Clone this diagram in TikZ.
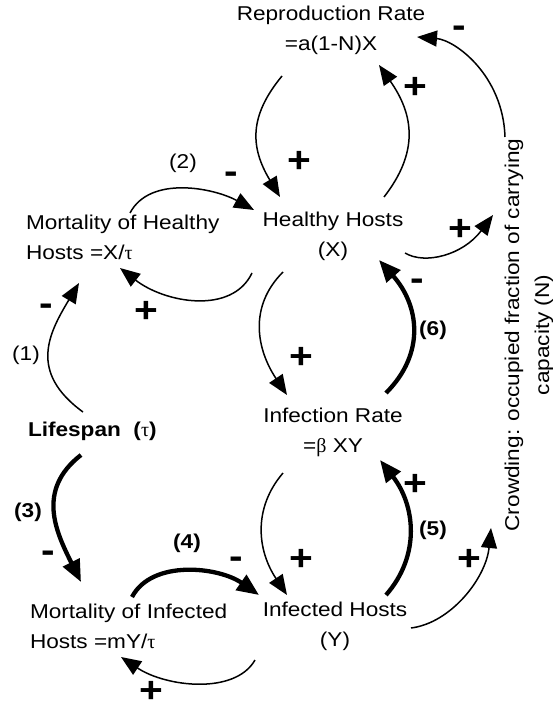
\documentclass[tikz,border=0pt]{standalone}
\usepackage{fontspec}
\setmainfont{Liberation Sans}[FakeStretch=1.13]
\newfontfamily\grk{Liberation Serif}
\usetikzlibrary{arrows.meta}

\begin{document}
\begin{tikzpicture}[x=1pt,y=-1pt,
  every node/.style={inner sep=0pt,outer sep=0pt},
  lbl/.style={font=\fontsize{20}{30}\selectfont},
  sgn/.style={font=\fontsize{36}{36}\selectfont\bfseries},
  num/.style={font=\fontsize{20}{24}\selectfont},
  link/.style={line width=1.5pt,-{Triangle[length=20pt,width=16pt]}},
  fatlink/.style={line width=4.3pt,-{Triangle[length=22pt,width=18pt]}}]
\useasboundingbox (0,0) rectangle (552,711);
% 変数
\node[lbl,align=center] (rep) at (331,30) {Reproduction Rate\\=a(1-N)X};
\node[lbl,align=left,anchor=west] (morth) at (26,237) {Mortality of Healthy\\Hosts =X/{\grk τ}};
\node[lbl,align=center] (healthy) at (333,236) {Healthy Hosts\\(X)};
\node[lbl,anchor=west,font=\fontsize{20}{30}\selectfont\bfseries] (life) at (28,431) {Lifespan\ \ ({\grk\mdseries τ})};
\node[lbl,align=center] (inf) at (333,432) {Infection Rate\\={\grk β} XY};
\node[lbl,align=left,anchor=west] (morti) at (30,626) {Mortality of Infected\\Hosts =mY/{\grk τ}};
\node[lbl,align=center] (infected) at (335,626) {Infected Hosts\\(Y)};
\node[lbl,align=center,rotate=90] (crowd) at (529,335) {Crowding: occupied fraction of carrying\\capacity (N)};
% 上のループ
\draw[link] ([shift={(-24,-198)}]crowd.center) .. controls +(-2,-62) and +(38,3) .. ([shift={(86,7)}]rep.center);
\draw[link] ([shift={(51,-39)}]healthy.center) .. controls +(35,-45) and +(35,50) .. ([shift={(48,35)}]rep.center);
\draw[link] ([shift={(-49,46)}]rep.center) .. controls +(-33,40) and +(-30,-50) .. ([shift={(-53,-39)}]healthy.center);
\draw[link] ([shift={(72,17)}]healthy.center) .. controls +(20,12) and +(-30,40) .. ([shift={(-36,-120)}]crowd.center);
% (1) (2)
\draw[link] ([shift={(104,-24)}]morth.west) .. controls +(20,-38) and +(-40,-22) .. ([shift={(-79,-26)}]healthy.center);
\draw[link] ([shift={(-81,37)}]healthy.center) .. controls +(-20,42) and +(45,35) .. ([shift={(94,31)}]morth.west);
\draw[link] ([shift={(55,-19)}]life.west) .. controls +(-55,-40) and +(-30,50) .. ([shift={(53,46)}]morth.west);
% 感染
\draw[link] ([shift={(-50,36)}]healthy.center) .. controls +(-35,35) and +(-30,-45) .. ([shift={(-46,-37)}]inf.center);
\draw[fatlink] ([shift={(53,-39)}]inf.center) .. controls +(40,-40) and +(40,45) .. ([shift={(46,24)}]healthy.center);
\draw[link] ([shift={(-50,41)}]inf.center) .. controls +(-30,35) and +(-30,-45) .. ([shift={(-48,-31)}]infected.center);
\draw[fatlink] ([shift={(51,-31)}]infected.center) .. controls +(35,-40) and +(35,45) .. ([shift={(47,28)}]inf.center);
% (3) (4)
\draw[fatlink] ([shift={(53,24)}]life.west) .. controls +(-45,35) and +(-25,-50) .. ([shift={(51,-44)}]morti.west);
\draw[fatlink] ([shift={(102,-29)}]morti.west) .. controls +(20,-38) and +(-40,-28) .. ([shift={(-76,-31)}]infected.center);
\draw[link] ([shift={(-80,34)}]infected.center) .. controls +(-20,35) and +(45,30) .. ([shift={(91,31)}]morti.west);
\draw[link] ([shift={(76,2)}]infected.center) .. controls +(40,-5) and +(-5,50) .. ([shift={(-38,193)}]crowd.center);
% 符号
\node[sgn] (s1) at (459,32) {-};
\node[sgn] (s2) at (415,88) {+};
\node[sgn] (s3) at (299,162) {+};
\node[sgn] (s4) at (231,178) {-};
\node[sgn] (s5) at (460,230) {+};
\node[sgn] (s6) at (146,312) {+};
\node[sgn] (s7) at (46,310) {-};
\node[sgn] (s8) at (301,358) {+};
\node[sgn] (s9) at (417,285) {-};
\node[sgn] (s10) at (48,557) {-};
\node[sgn] (s11) at (236,563) {-};
\node[sgn] (s12) at (301,560) {+};
\node[sgn] (s13) at (415,485) {+};
\node[sgn] (s14) at (469,560) {+};
\node[sgn] (s15) at (151,692) {+};
% ループ番号
\node[num] (n1) at (26,355) {(1)};
\node[num] (n2) at (183,163) {(2)};
\node[num,font=\fontsize{20}{24}\selectfont\bfseries] (n3) at (28,512) {(3)};
\node[num,font=\fontsize{20}{24}\selectfont\bfseries] (n4) at (187,543) {(4)};
\node[num,font=\fontsize{20}{24}\selectfont\bfseries] (n5) at (433,530) {(5)};
\node[num,font=\fontsize{20}{24}\selectfont\bfseries] (n6) at (433,330) {(6)};
\end{tikzpicture}
\end{document}
